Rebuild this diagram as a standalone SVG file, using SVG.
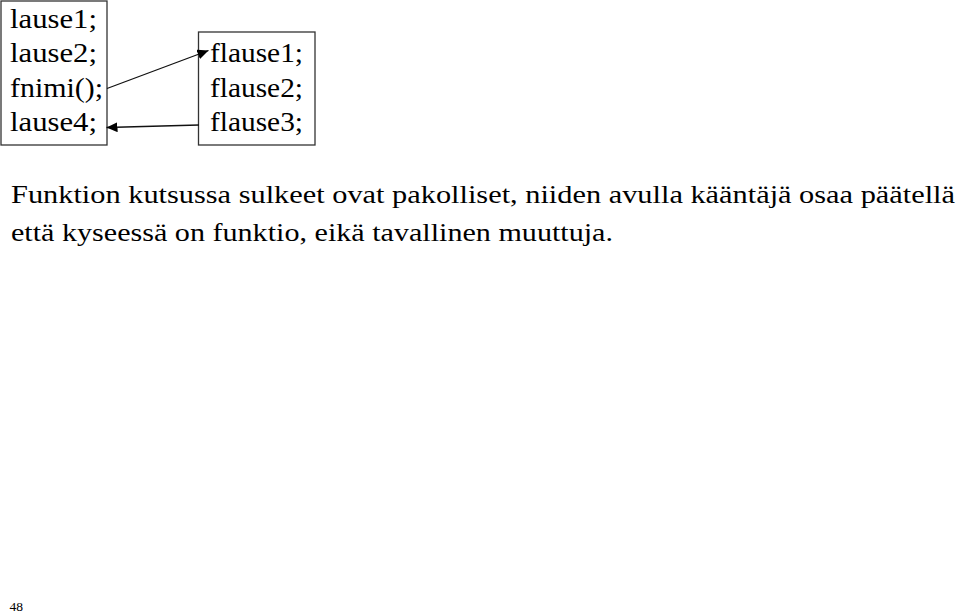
<svg xmlns="http://www.w3.org/2000/svg" width="959" height="613" viewBox="0 0 959 613">
<style>
  .t { font-family: 'Liberation Serif', Tinos, 'Times New Roman', Times, serif; font-size: 27px; fill: #000; }
  .p { font-family: 'Liberation Serif', Tinos, 'Times New Roman', Times, serif; font-size: 25px; fill: #000; }
  .pn { font-family: 'Liberation Serif', Tinos, 'Times New Roman', Times, serif; font-size: 12.5px; fill: #000; }
  .box { fill: none; stroke: #333; stroke-width: 1.3; }
  .conn { stroke: #111; stroke-width: 1.3; fill: none; marker-end: url(#ah); }
</style>
<defs>
  <marker id="ah" markerUnits="userSpaceOnUse" markerWidth="12" markerHeight="10" refX="11" refY="5" orient="auto">
    <path d="M0,0 L11,5 L0,10 Z" fill="#000"/>
  </marker>
</defs>
<rect width="959" height="613" fill="#fff"/>
<g id="main">
  <rect class="box" x="1" y="1" width="106" height="144"/>
  <text class="t" x="10" y="28" textLength="87" lengthAdjust="spacingAndGlyphs">lause1;</text>
  <text class="t" x="10" y="62" textLength="87" lengthAdjust="spacingAndGlyphs">lause2;</text>
  <text class="t" x="10" y="96.5" textLength="93" lengthAdjust="spacingAndGlyphs">fnimi();</text>
  <text class="t" x="10" y="131" textLength="87" lengthAdjust="spacingAndGlyphs">lause4;</text>
</g>
<g id="func">
  <rect class="box" x="198.5" y="32" width="116.5" height="113"/>
  <text class="t" x="210" y="62" textLength="93" lengthAdjust="spacingAndGlyphs">flause1;</text>
  <text class="t" x="210" y="96.5" textLength="93" lengthAdjust="spacingAndGlyphs">flause2;</text>
  <text class="t" x="210" y="131" textLength="93" lengthAdjust="spacingAndGlyphs">flause3;</text>
</g>
<g id="connectors">
  <line class="conn" x1="107" y1="88.5" x2="208.5" y2="50.5"/>
  <line class="conn" x1="199" y1="125" x2="106.5" y2="127.5"/>
</g>
<g id="caption">
  <text class="p" x="11" y="202.5" textLength="944" lengthAdjust="spacingAndGlyphs">Funktion kutsussa sulkeet ovat pakolliset, niiden avulla kääntäjä osaa päätellä</text>
  <text class="p" x="11" y="240.5" textLength="602" lengthAdjust="spacingAndGlyphs">että kyseessä on funktio, eikä tavallinen muuttuja.</text>
</g>
<g id="pagenum">
  <text class="pn" x="9.5" y="611" textLength="13.5" lengthAdjust="spacingAndGlyphs">48</text>
</g>
</svg>
